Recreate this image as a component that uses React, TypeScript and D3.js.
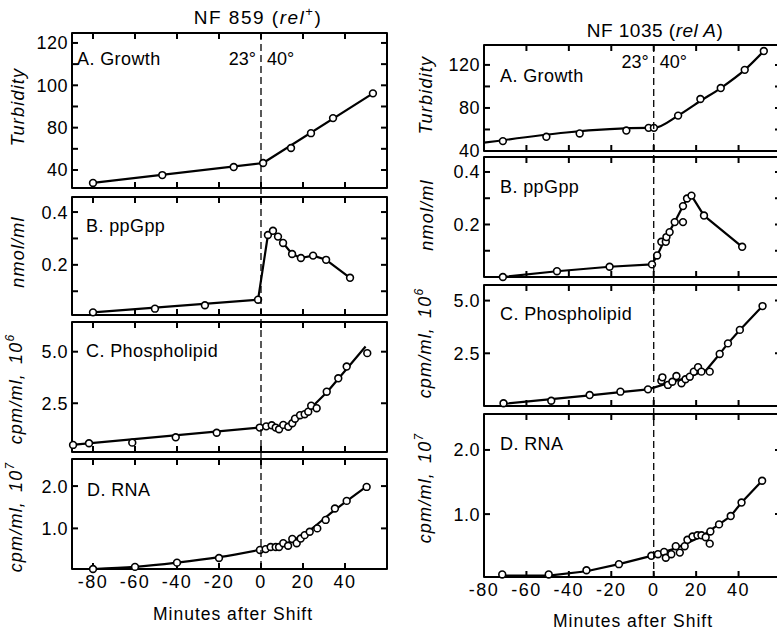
import React, { useEffect, useRef } from "react";
import * as d3 from "d3";

// x axis (minutes after shift)
const xTicks = [-80, -60, -40, -20, 0, 20, 40];
const xTickLabels = ["-80", "-60", "-40", "-20", "0", "20", "40"];

// NF859 (rel+) : [minutes, value]
const growth859 = [[-80, 53.9], [-47, 57.6], [-13, 61.4], [1, 63.3], [14.3, 70.4], [23.8, 77.4], [34.3, 84.5], [53.3, 96.2]];
const growth859Fit = [[-80, 53.9], [1, 63.3], [53.3, 96.2]];
const ppgpp859 = [[-80, 0.02], [-50.5, 0.034], [-26.7, 0.047], [-1.4, 0.068], [3.3, 0.313], [5.7, 0.329], [8.1, 0.307], [10.5, 0.283], [14.8, 0.241], [19, 0.226], [24.8, 0.235], [31, 0.219], [42.4, 0.151]];
const ppgpp859Fit = [[-80, 0.02], [-1.4, 0.068], [3.3, 0.313], [5.7, 0.329], [8.1, 0.307], [10.5, 0.283], [14.8, 0.241], [19, 0.226], [24.8, 0.235], [31, 0.219], [42.4, 0.151]];
const lipid859 = [[-89.5, 0.48], [-81.9, 0.56], [-61.3, 0.59], [-40.6, 0.85], [-21.1, 1.07], [-0.6, 1.32], [2.5, 1.38], [5.1, 1.43], [7, 1.32], [8.6, 1.24], [10.6, 1.45], [13, 1.36], [14.9, 1.53], [16.2, 1.75], [18.6, 1.92], [20.8, 1.97], [22.5, 2.09], [23.9, 2.38], [26.5, 2.26], [31.3, 3.06], [36.8, 3.71], [40.8, 4.28], [50.6, 4.93]];
const lipid859Fit = [[-90, 0.48], [0, 1.33], [8.6, 1.36], [13.3, 1.45], [16.5, 1.69], [21.3, 1.93], [24.4, 2.33], [31.6, 3.06], [49.8, 5.25]];
const rna859 = [[-80, 0.04], [-60, 0.09], [-40, 0.19], [-20, 0.3], [-0.5, 0.49], [2.2, 0.51], [4.6, 0.56], [7, 0.56], [8.6, 0.56], [10.6, 0.65], [12.9, 0.59], [14.9, 0.75], [17, 0.65], [18.9, 0.76], [20.8, 0.84], [23.2, 0.92], [26.8, 1.0], [30.8, 1.2], [35.2, 1.47], [40.8, 1.65], [50.3, 1.98]];
const rna859Fit = [[-80, 0.04], [-60, 0.09], [-40, 0.19], [-20, 0.32], [0, 0.5], [10, 0.6], [21, 0.88], [34, 1.39], [50, 1.98]];

// NF1035 (relA)
const growth1035 = [[-71.1, 49.2], [-50.6, 53.2], [-34.9, 56.3], [-12.9, 59], [-2.4, 61.5], [0.1, 61.5], [11.5, 72.9], [22, 88.3], [31.6, 98.5], [42.9, 115.4], [51.9, 132.9]];
const growth1035Fit = [[-80, 47.7], [-2.4, 61.5], [0.1, 61.5], [11.5, 72.9], [22, 86.5], [31.6, 98.5], [42.9, 115.4], [51.9, 132.9]];
const ppgpp1035 = [[-71.1, 0.0], [-45.6, 0.022], [-20.8, 0.039], [-0.8, 0.048], [1.6, 0.082], [3.6, 0.134], [5.7, 0.134], [6, 0.152], [7.5, 0.171], [9.9, 0.209], [13.8, 0.209], [13.8, 0.27], [15.7, 0.299], [17.8, 0.31], [23.7, 0.234], [41.7, 0.115]];
const ppgpp1035Fit = [[-71.1, 0.0], [-45.6, 0.022], [-20.8, 0.039], [-0.8, 0.048], [1.6, 0.082], [5.7, 0.15], [9.9, 0.209], [13.8, 0.27], [15.7, 0.299], [17.8, 0.31], [23.7, 0.234], [41.7, 0.115]];
const lipid1035 = [[-70.8, 0.13], [-48.3, 0.25], [-30.2, 0.52], [-15.7, 0.68], [-2.7, 0.79], [3.6, 1.2], [4.1, 1.36], [6.7, 1.0], [8.8, 1.15], [10.7, 1.42], [13.1, 1.08], [15, 1.27], [17, 1.39], [18.9, 1.63], [20.9, 1.84], [22.5, 1.63], [26.4, 1.63], [31.1, 2.47], [35, 2.97], [40.6, 3.61], [51.3, 4.74]];
const lipid1035Fit = [[-70.8, 0.1], [-30.2, 0.5], [-15.7, 0.66], [-2.7, 0.79], [9.1, 1.15], [17, 1.39], [24.8, 1.71], [31.1, 2.47], [35, 2.97], [40.6, 3.61], [51.3, 4.74]];
const rna1035 = [[-71.4, 0.06], [-49.5, 0.06], [-31.7, 0.125], [-16.4, 0.22], [-1.1, 0.35], [2, 0.375], [4.9, 0.41], [5.7, 0.32], [8.3, 0.375], [10.4, 0.5], [12.3, 0.4], [14.6, 0.5], [15.9, 0.6], [18.3, 0.65], [20.6, 0.67], [22.5, 0.67], [24.5, 0.64], [26.4, 0.54], [26.7, 0.73], [30.8, 0.84], [36.3, 0.97], [41.4, 1.18], [51.1, 1.52]];
const rna1035Fit = [[-71.4, 0.04], [-49.5, 0.04], [-31.7, 0.11], [-16.4, 0.22], [-1.1, 0.35], [10.7, 0.47], [22.5, 0.65], [26.7, 0.75], [30.8, 0.84], [36.3, 0.97], [41.4, 1.18], [51.1, 1.52]];

// y tick values / labels
const turb859Major = [60, 80, 100, 120];
const turb859Labels = ["40", "80", "100", "120"];
const turb859Minor = [70, 90, 110];
const turb1035Major = [40, 80, 120];
const turb1035Labels = ["40", "80", "120"];
const turb1035Minor = [60, 100];
const ppgppMajor = [0.2, 0.4];
const ppgppLabels = ["0.2", "0.4"];
const ppgppMinor = [0.1, 0.3];
const lipidMajor = [2.5, 5.0];
const lipidLabels = ["2.5", "5.0"];
const rnaMajor = [1, 2];
const rnaLabels = ["1.0", "2.0"];

const FONT = "'Liberation Sans', Arial, sans-serif";

type Panel = {
  top: number; bottom: number; domain: number[];
  major: number[]; labels: string[]; minor: number[];
  pts: number[][]; fit: number[][]; curve?: boolean;
  name: string; nx: number; ny: number;
};

function drawColumn(svg: any, col: any) {
  const x = d3.scaleLinear().domain(col.xDomain).range(col.xRange);
  const [x0, x1] = col.xRange;
  const g = svg.append("g");

  col.panels.forEach((p: Panel, pi: number) => {
    const y = d3.scaleLinear().domain(p.domain).range([p.bottom, p.top]);
    const pg = g.append("g");
    pg.append("rect").attr("x", x0).attr("y", p.top).attr("width", x1 - x0).attr("height", p.bottom - p.top)
      .attr("fill", "none").attr("stroke", "#000").attr("stroke-width", 2);

    const tk = 6;
    const inX = xTicks.filter(t => t >= col.xDomain[0] && t <= col.xDomain[1]);
    pg.selectAll(".xt").data(inX).join("line")
      .attr("x1", d => x(d)).attr("x2", d => x(d)).attr("y1", p.top).attr("y2", p.top + tk)
      .attr("stroke", "#000").attr("stroke-width", 2);
    pg.selectAll(".xb").data(inX).join("line")
      .attr("x1", d => x(d)).attr("x2", d => x(d)).attr("y1", p.bottom).attr("y2", p.bottom - tk)
      .attr("stroke", "#000").attr("stroke-width", 2);

    const allY = p.major.concat(p.minor).filter(v => v > p.domain[0] && v < p.domain[1]);
    pg.selectAll(".yl").data(allY).join("line")
      .attr("x1", x0).attr("x2", x0 + tk).attr("y1", d => y(d)).attr("y2", d => y(d))
      .attr("stroke", "#000").attr("stroke-width", 2);
    pg.selectAll(".yr").data(allY).join("line")
      .attr("x1", x1).attr("x2", x1 - tk).attr("y1", d => y(d)).attr("y2", d => y(d))
      .attr("stroke", "#000").attr("stroke-width", 2);

    pg.selectAll(".ylab").data(p.major).join("text")
      .attr("x", x0 - 4).attr("y", d => y(d)).attr("dy", "0.36em")
      .attr("text-anchor", "end").attr("font-size", 18).attr("letter-spacing", 0.5)
      .text((d, i) => p.labels[i]);

    pg.append("text").attr("x", p.nx).attr("y", p.ny).attr("font-size", 18).attr("letter-spacing", 0.4)
      .text(p.name);

    const line = d3.line<number[]>().x(d => x(d[0])).y(d => y(d[1]))
      .curve(p.curve ? d3.curveMonotoneX : d3.curveLinear);
    pg.append("path").attr("d", line(p.fit)).attr("fill", "none").attr("stroke", "#000").attr("stroke-width", 2.2);

    pg.selectAll("circle").data(p.pts).join("circle")
      .attr("cx", d => x(d[0])).attr("cy", d => y(d[1])).attr("r", 3.4)
      .attr("fill", "#fff").attr("stroke", "#000").attr("stroke-width", 1.6);

    if (pi === 0) {
      pg.append("text").attr("x", x(0) - 5).attr("y", col.degY).attr("text-anchor", "end")
        .attr("font-size", 18).text("23°");
      pg.append("text").attr("x", x(0) + 6).attr("y", col.degY)
        .attr("font-size", 18).text("40°");
    }
  });

  const first = col.panels[0];
  const last = col.panels[col.panels.length - 1];
  g.append("line").attr("x1", x(0)).attr("x2", x(0)).attr("y1", first.top).attr("y2", last.bottom)
    .attr("stroke", "#000").attr("stroke-width", 1.3).attr("stroke-dasharray", "7,4");

  g.selectAll(".xlab").data(xTicks).join("text")
    .attr("x", d => x(d)).attr("y", last.bottom + 19).attr("text-anchor", "middle")
    .attr("font-size", 18).attr("letter-spacing", 1.5)
    .text((d, i) => xTickLabels[i]);

  g.append("text").attr("x", col.xTitle[0]).attr("y", col.xTitle[1]).attr("text-anchor", "middle")
    .attr("font-size", 17.5).attr("letter-spacing", 1).text("Minutes after Shift");

  // title
  const t = g.append("text").attr("x", col.title[0]).attr("y", col.title[1])
    .attr("text-anchor", "middle").attr("font-size", 19).attr("letter-spacing", col.titleSpacing);
  t.append("tspan").text(col.strain + " (");
  t.append("tspan").attr("font-style", "italic").text(col.gene);
  if (col.sup) {
    t.append("tspan").attr("font-size", 13).attr("dy", -8).text(col.sup);
    t.append("tspan").attr("dy", 8).text(")");
  } else {
    t.append("tspan").text(")");
  }

  // rotated y titles
  col.yTitles.forEach((yt: any) => {
    const tt = g.append("text").attr("transform", `translate(${yt.x},${yt.y}) rotate(-90)`)
      .attr("text-anchor", "middle").attr("font-size", 18).attr("font-style", "italic")
      .attr("letter-spacing", 1.2);
    tt.append("tspan").text(yt.text);
    if (yt.pow) {
      tt.append("tspan").attr("dx", 9).text("10");
      tt.append("tspan").attr("font-size", 12).attr("dy", -8).text(yt.pow);
    }
  });
}

export default function App() {
  const ref = useRef<SVGSVGElement>(null);

  useEffect(() => {
    const svg = d3.select(ref.current);
    svg.selectAll("*").remove();
    svg.attr("font-family", FONT).attr("stroke-linejoin", "round");

    drawColumn(svg, {
      xDomain: [-90, 60], xRange: [72, 387], degY: 65,
      title: [258, 24], titleSpacing: 1.5, strain: "NF 859", gene: "rel", sup: "+",
      xTitle: [233, 620],
      yTitles: [
        { x: 24, y: 107, text: "Turbidity" },
        { x: 24, y: 252, text: "nmol/ml" },
        { x: 22, y: 389, text: "cpm/ml,", pow: "6" },
        { x: 22, y: 517, text: "cpm/ml,", pow: "7" },
      ],
      panels: [
        { top: 33, bottom: 188, domain: [51.5, 124.7], major: turb859Major, labels: turb859Labels, minor: turb859Minor, pts: growth859, fit: growth859Fit, name: "A. Growth", nx: 77, ny: 65 },
        { top: 197, bottom: 315, domain: [0.01, 0.457], major: ppgppMajor, labels: ppgppLabels, minor: ppgppMinor, pts: ppgpp859, fit: ppgpp859Fit, name: "B. ppGpp", nx: 86, ny: 232 },
        { top: 322, bottom: 452, domain: [0.136, 6.44], major: lipidMajor, labels: lipidLabels, minor: [], pts: lipid859, fit: lipid859Fit, name: "C. Phospholipid", nx: 86, ny: 357 },
        { top: 459, bottom: 569, domain: [0.04, 2.64], major: rnaMajor, labels: rnaLabels, minor: [], pts: rna859, fit: rna859Fit, curve: true, name: "D. RNA", nx: 87, ny: 496 },
      ],
    });

    drawColumn(svg, {
      xDomain: [-80, 60], xRange: [484, 781], degY: 68,
      title: [655, 37], titleSpacing: 0.5, strain: "NF 1035", gene: "rel A", sup: null,
      xTitle: [633, 627],
      yTitles: [
        { x: 432, y: 95, text: "Turbidity" },
        { x: 433, y: 215, text: "nmol/ml" },
        { x: 431, y: 343, text: "cpm/ml,", pow: "6" },
        { x: 431, y: 488, text: "cpm/ml,", pow: "7" },
      ],
      panels: [
        { top: 45, bottom: 151, domain: [40, 138.5], major: turb1035Major, labels: turb1035Labels, minor: turb1035Minor, pts: growth1035, fit: growth1035Fit, curve: true, name: "A. Growth", nx: 500, ny: 82 },
        { top: 157, bottom: 277, domain: [0, 0.457], major: ppgppMajor, labels: ppgppLabels, minor: ppgppMinor, pts: ppgpp1035, fit: ppgpp1035Fit, name: "B. ppGpp", nx: 500, ny: 193 },
        { top: 285, bottom: 406, domain: [0, 5.74], major: lipidMajor, labels: lipidLabels, minor: [], pts: lipid1035, fit: lipid1035Fit, name: "C. Phospholipid", nx: 500, ny: 320 },
        { top: 414, bottom: 577, domain: [0.02, 2.56], major: rnaMajor, labels: rnaLabels, minor: [], pts: rna1035, fit: rna1035Fit, name: "D. RNA", nx: 500, ny: 450 },
      ],
    });
  }, []);

  return (
    <svg ref={ref} width={777} height={632}
      style={{ position: "absolute", left: 0, top: 0, display: "block", background: "#fff" }} />
  );
}
